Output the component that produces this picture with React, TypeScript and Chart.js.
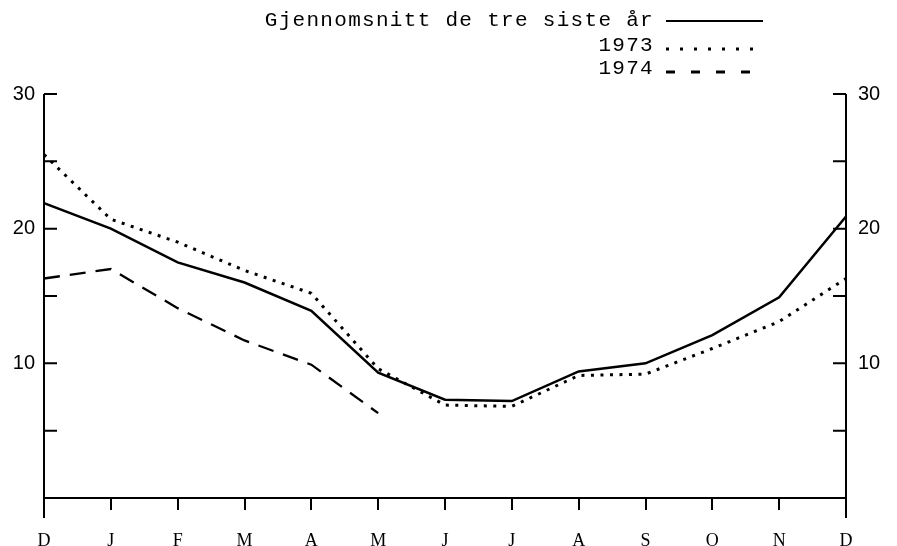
import React, { useEffect, useRef } from 'react';
import { Chart, registerables } from 'chart.js';

Chart.register(...registerables);

const months = ['D', 'J', 'F', 'M', 'A', 'M', 'J', 'J', 'A', 'S', 'O', 'N', 'D'];
const avgLabel = 'Gjennomsnitt de tre siste år';
const avgValues = [21.9, 20.0, 17.5, 16.0, 13.9, 9.3, 7.3, 7.2, 9.4, 10.0, 12.1, 14.9, 20.9];
const label1973 = '1973';
const values1973 = [25.5, 20.7, 19.0, 16.9, 15.2, 9.6, 6.9, 6.8, 9.1, 9.2, 11.1, 13.1, 16.3];
const label1974 = '1974';
const values1974 = [16.3, 17.0, 14.1, 11.7, 9.9, 6.3, null, null, null, null, null, null, null];
const yLabelTicks = [10, 20, 30];
const yTickMarks = [5, 10, 15, 20, 25, 30];

const legendDashes = [[], [3, 11], [9, 16]];

const axesPlugin = {
  id: 'axesPlugin',
  afterDraw(chart: any) {
    const { ctx, chartArea, scales } = chart;
    const { left, right, top, bottom } = chartArea;
    const y = scales.y;
    ctx.save();
    ctx.strokeStyle = '#000';
    ctx.lineWidth = 2;
    ctx.beginPath();
    ctx.moveTo(left, top);
    ctx.lineTo(left, bottom + 20);
    ctx.moveTo(right, top);
    ctx.lineTo(right, bottom + 20);
    for (const v of yTickMarks) {
      const py = y.getPixelForValue(v);
      ctx.moveTo(left, py);
      ctx.lineTo(left + 13, py);
      ctx.moveTo(right, py);
      ctx.lineTo(right - 13, py);
    }
    ctx.stroke();
    ctx.restore();
  },
};

const legendPlugin = {
  id: 'legendPlugin',
  afterDraw(chart: any) {
    const { ctx } = chart;
    const rows = [20, 45, 68];
    const textRight = 654;
    const lineStart = 666;
    const lineEnd = 763;
    ctx.save();
    ctx.fillStyle = '#000';
    ctx.font = '21px "Liberation Mono"';
    (ctx as any).letterSpacing = '1.3px';
    ctx.textAlign = 'right';
    ctx.textBaseline = 'middle';
    chart.data.datasets.forEach((ds: any, i: number) => {
      const yy = rows[i];
      ctx.fillText(ds.label, textRight, yy);
      ctx.beginPath();
      ctx.strokeStyle = '#000';
      ctx.lineWidth = i === 0 ? 2 : 3;
      ctx.setLineDash(legendDashes[i]);
      const ly = i === 0 ? yy + 1 : yy + 4;
      ctx.moveTo(lineStart, ly);
      ctx.lineTo(lineEnd, ly);
      ctx.stroke();
    });
    ctx.restore();
  },
};

export default function App() {
  const ref = useRef<HTMLCanvasElement | null>(null);

  useEffect(() => {
    if (!ref.current) return;
    const chart = new Chart(ref.current, {
      type: 'line',
      data: {
        labels: months,
        datasets: [
          {
            label: avgLabel,
            data: avgValues,
            borderColor: '#000',
            borderWidth: 2.5,
            pointRadius: 0,
            tension: 0,
          },
          {
            label: label1973,
            data: values1973,
            borderColor: '#000',
            borderWidth: 3,
            borderDash: [3, 6.5],
            pointRadius: 0,
            tension: 0,
          },
          {
            label: label1974,
            data: values1974,
            borderColor: '#000',
            borderWidth: 2.3,
            borderDash: [16, 10],
            pointRadius: 0,
            tension: 0,
            spanGaps: false,
          },
        ],
      },
      options: {
        animation: false,
        responsive: false,
        maintainAspectRatio: false,
        layout: { padding: { top: 94, left: 0, right: 0, bottom: 0 } },
        plugins: {
          legend: { display: false },
          tooltip: { enabled: false },
          title: { display: false },
        },
        scales: {
          x: {
            type: 'category',
            offset: false,
            grid: {
              display: true,
              drawOnChartArea: false,
              drawTicks: true,
              tickLength: 12,
              color: '#000',
              lineWidth: 2,
            },
            border: { display: true, color: '#000', width: 2 },
            ticks: {
              color: '#000',
              font: { family: 'Liberation Serif', size: 18 },
              padding: 20,
              maxRotation: 0,
              autoSkip: false,
            },
            afterFit: (s: any) => {
              s.height = 48;
            },
          },
          y: {
            position: 'left',
            min: 0,
            max: 30,
            grid: { display: false, drawTicks: false },
            border: { display: false },
            afterBuildTicks: (s: any) => {
              s.ticks = yLabelTicks.map((v) => ({ value: v }));
            },
            ticks: {
              color: '#000',
              font: { family: 'Liberation Sans', size: 20 },
              padding: 9,
            },
            afterFit: (s: any) => {
              s.width = 44;
            },
          },
          y2: {
            position: 'right',
            min: 0,
            max: 30,
            grid: { display: false, drawTicks: false },
            border: { display: false },
            afterBuildTicks: (s: any) => {
              s.ticks = yLabelTicks.map((v) => ({ value: v }));
            },
            ticks: {
              color: '#000',
              font: { family: 'Liberation Sans', size: 20 },
              padding: 12,
            },
            afterFit: (s: any) => {
              s.width = 51;
            },
          },
        },
      } as any,
      plugins: [axesPlugin, legendPlugin],
    });
    return () => chart.destroy();
  }, []);

  return (
    <div style={{ position: 'absolute', left: 0, top: 0, width: 897, height: 546, background: '#fff' }}>
      <canvas ref={ref} width={897} height={546} />
    </div>
  );
}
